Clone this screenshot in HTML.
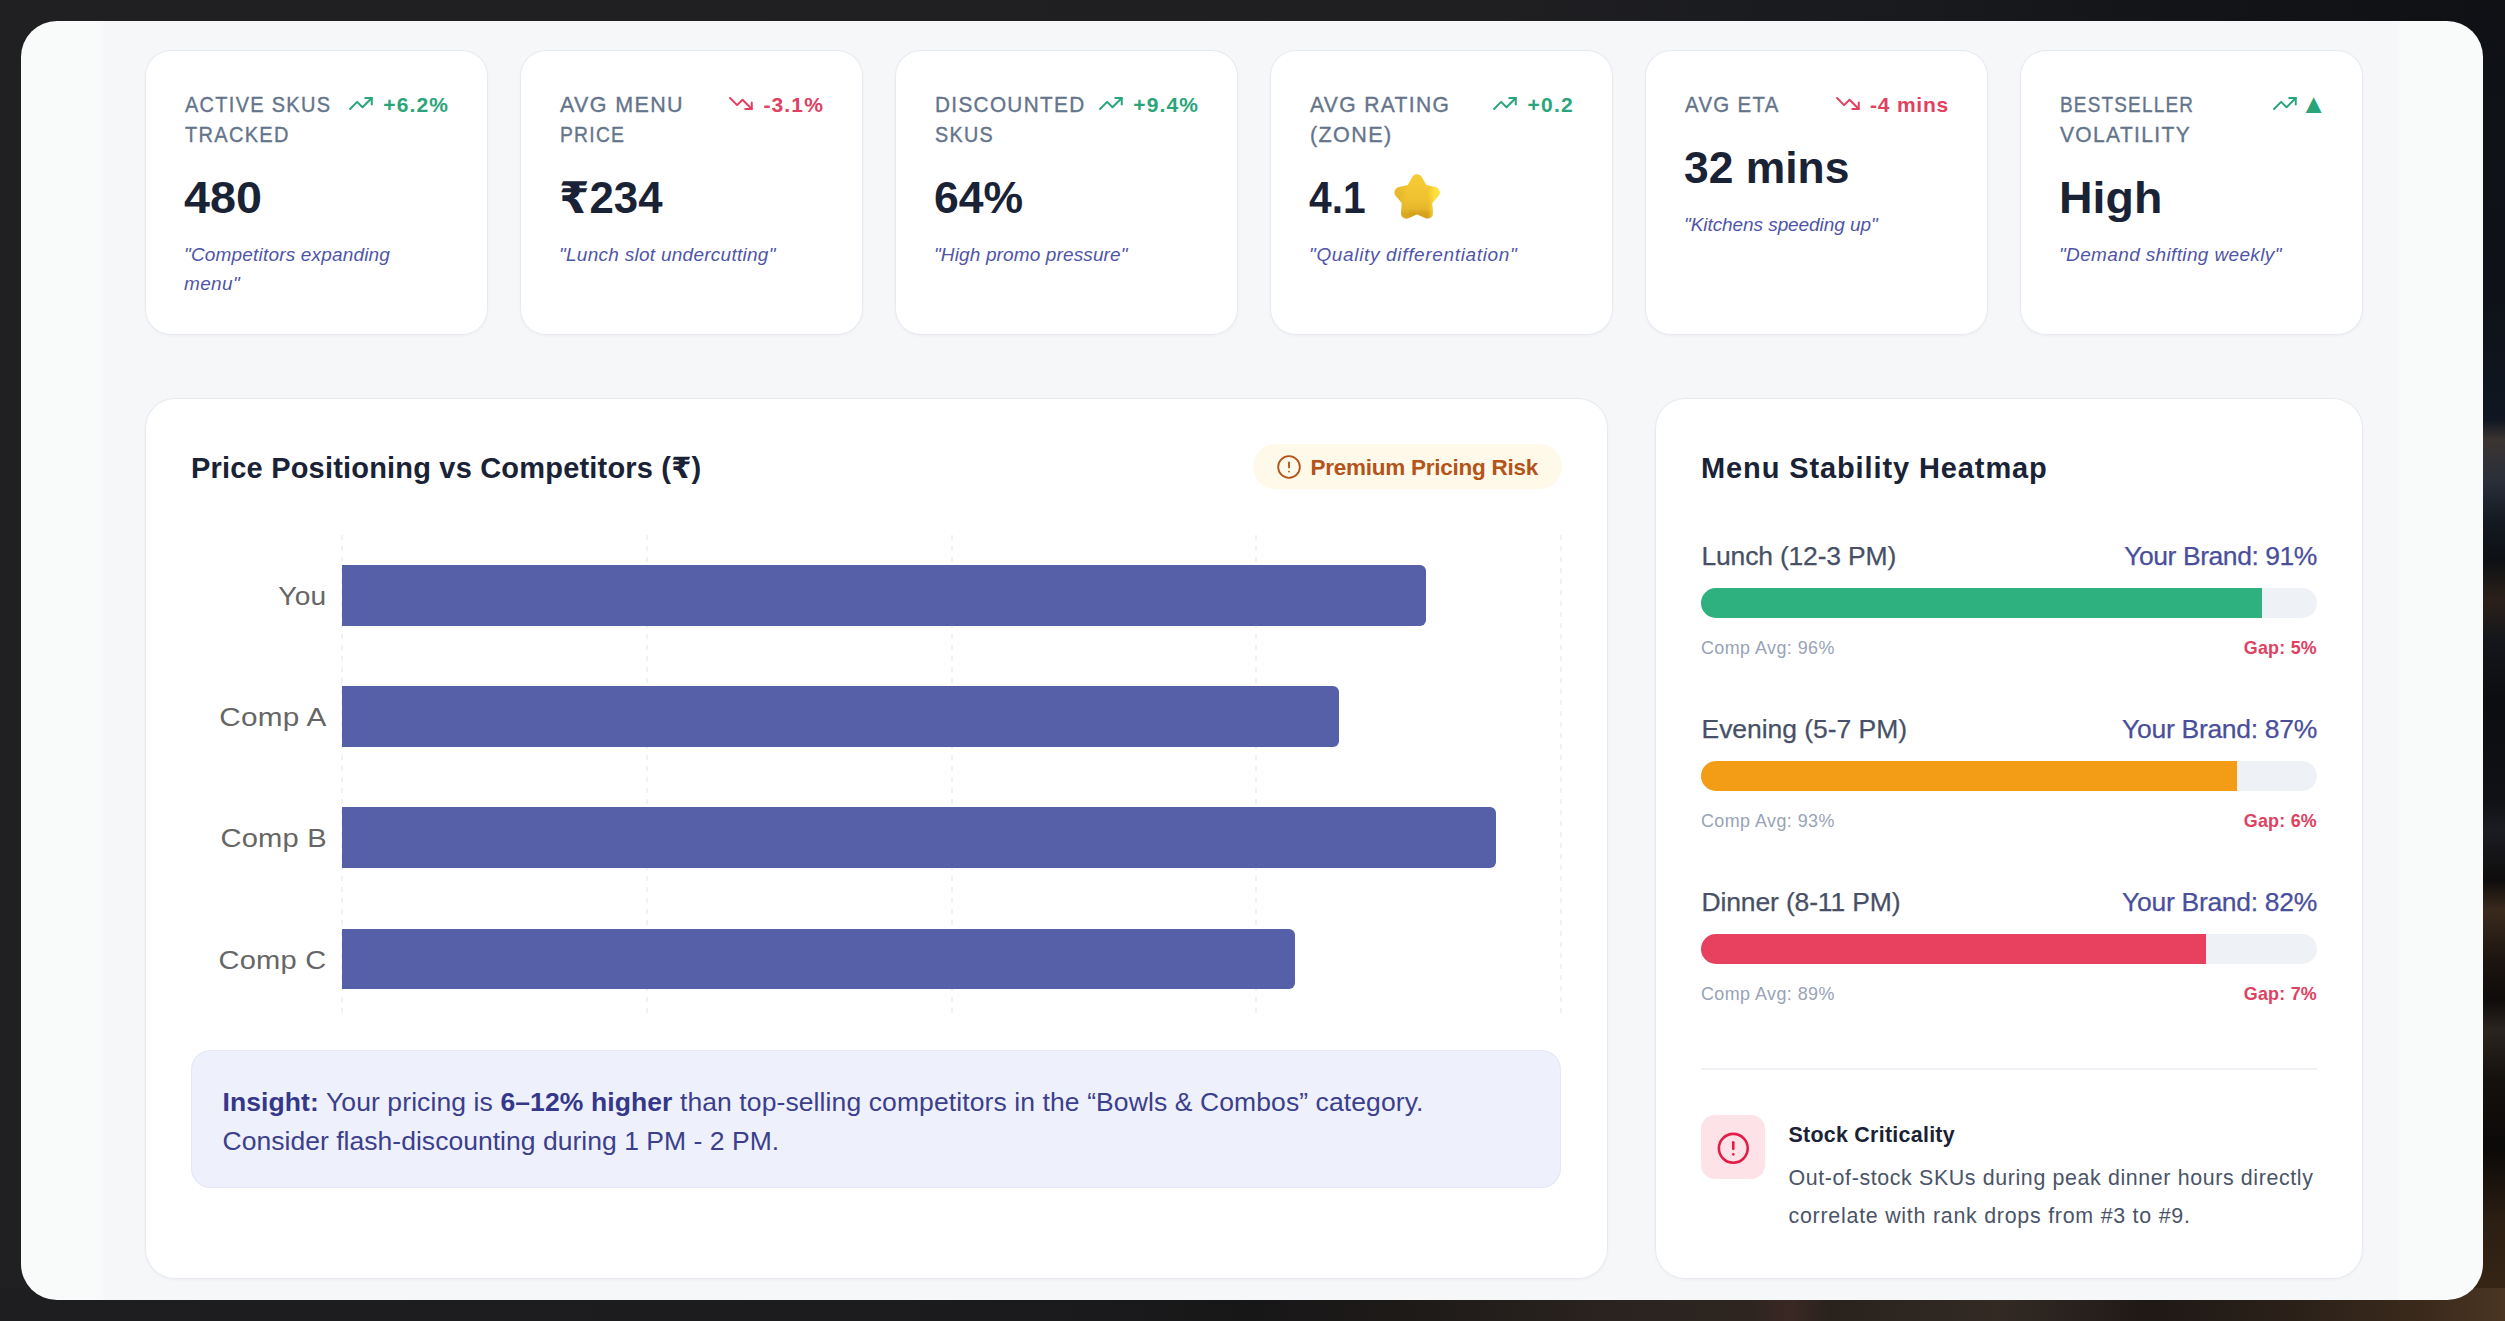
<!DOCTYPE html>
<html lang="en">
<head>
<meta charset="utf-8">
<title>Menu Intelligence Dashboard</title>
<style>
*{box-sizing:border-box;margin:0;padding:0}
html,body{width:2505px;height:1321px;overflow:hidden}
body{position:relative;font-family:"Liberation Sans","DejaVu Sans",sans-serif;color:#1a2236;background:#1b1c1f}
.bg{position:absolute;left:0;top:0;width:2505px;height:1321px;background:linear-gradient(90deg,#202023 0,#1f1f22 1500px,#191a1e 1900px,#111317 2250px,#0f1115 100%)}
.bgbot{position:absolute;left:0;top:1288px;width:2505px;height:33px;background:linear-gradient(90deg,#1e1e21 0,#1c1c1f 900px,#181718 1250px,#1d1a18 1400px,#2a231f 1600px,#2e2520 1750px,#3a2824 1790px,#2a221d 1830px,#332a24 2000px,#1f1916 2150px,#2c2119 2300px,#3a2a1c 2420px,#4a3522 2505px)}
.bgright{position:absolute;left:2470px;top:0;width:35px;height:1321px;background:linear-gradient(180deg,#0f1115 0,#0e1218 300px,#101722 420px,#3b3431 440px,#2a2f3a 480px,#141a22 520px,#0d1014 560px,#2b2019 600px,#14161b 640px,#0c0d10 700px,#101114 800px,#1b1c22 830px,#0e0c0c 880px,#3a2a1c 910px,#1c140f 960px,#0f0c0b 1000px,#2a241f 1030px,#14100d 1080px,#0b0908 1150px,#2c1e12 1220px,#3a2814 1321px)}
.panel{position:absolute;left:21px;top:21px;width:2462px;height:1279px;border-radius:36px;overflow:hidden;background:linear-gradient(90deg,#f9fbfb 0,#f9fbfb 80px,#f6f7f9 84px,#f6f7f9 2376px,#f9fbfb 2380px,#f9fbfb 100%)}
.card{position:absolute;background:#fff;box-shadow:inset 0 0 0 1px #e6e9f0,0 1px 3px rgba(15,23,42,.04)}
.kpi{top:50px;width:343px;height:285px;border-radius:26px}
.abs{position:absolute;white-space:nowrap}
.t{display:inline-block;transform-origin:0 50%;white-space:nowrap}
.lbl{font-size:21.8px;line-height:30.8px;color:#64748b;left:39.5px;top:39.5px;-webkit-text-stroke:.35px #64748b}
.lbl span{display:block}
.trend{right:39px;top:40px;height:30px;font-size:21px;line-height:30px;font-weight:700;display:flex;align-items:center}
.trend svg{margin-right:10.4px;flex:none;position:relative;top:-1.5px}
.up{color:#2aa57a}.dn{color:#e0415f}
.val{left:39.2px;font-size:43.5px;line-height:54px;font-weight:700;color:#1a2236;top:121px}
.q{left:39px;top:190px;font-size:19px;line-height:29px;font-style:italic;color:#4f55a6}
.one .val{top:91px}.one .q{top:160px}
.star{position:absolute;left:121.5px;top:121.6px}
.big{top:398px;height:881px;border-radius:30px}
.h2{font-size:29px;line-height:36px;font-weight:700;color:#1a2236;top:52.3px;left:46px}
.badge{left:1108px;top:46px;width:309px;height:44.6px;border-radius:23px;background:#fef9e8;color:#b4531a;font-weight:700;font-size:22.5px;line-height:48.6px;padding-left:57.5px;overflow:hidden}
.badge svg{position:absolute;left:22.5px;top:10.1px}
.grid{position:absolute;top:137px;height:484px;width:2px;margin-left:-.5px;background:repeating-linear-gradient(180deg,#f1f2f5 0,#f1f2f5 5.5px,transparent 5.5px,transparent 11px)}
.bar{position:absolute;left:197px;height:61px;background:#5560a8;border-radius:0 6px 6px 0}
.yl{right:1281.2px;font-size:26.5px;line-height:36px;color:#666;margin-top:1px}
.insight{position:absolute;left:46px;top:652px;width:1370px;height:138px;border-radius:20px;background:#eef0fb;box-shadow:inset 0 0 0 1px #e4e7f7;color:#3b3f8c;font-size:26.5px;line-height:38.6px;padding:33.3px 0 0 31.5px;white-space:nowrap}
.insight b{color:#34378a}
.rl{left:46.5px;font-size:26.5px;line-height:34px;color:#475066;margin-top:1.6px;-webkit-text-stroke:.25px #475066}
.rr{right:46px;font-size:26.5px;line-height:34px;color:#4a4f9c;margin-top:1.6px;-webkit-text-stroke:.25px #4a4f9c}
.track{position:absolute;left:46px;width:616px;height:30px;border-radius:15px;background:#eef1f5;overflow:hidden}
.track i{display:block;height:30px}
.sl{left:46px;font-size:17.9px;line-height:24px;color:#98a3b6;margin-top:1px}
.sr{right:46px;font-size:17.9px;line-height:24px;color:#e0415f;font-weight:700;margin-top:1px}
.hr{position:absolute;left:46px;top:670px;width:616px;height:2px;background:#f0f2f6}
.ibox{position:absolute;left:46px;top:717px;width:64px;height:64px;border-radius:14px;background:#fde3e8}
.ibox svg{position:absolute;left:15.4px;top:15.6px}
.st{left:133.5px;top:723px;font-size:21.4px;line-height:28px;font-weight:700;color:#1a2236}
.sd{left:133.5px;top:762.4px;font-size:21.4px;line-height:37.2px;color:#4a5468}
</style>
</head>
<body>
<div class="bg"></div><div class="bgright"></div><div class="bgbot"></div>
<div class="panel"></div>

<div class="card kpi" style="left:145px">
 <div class="abs lbl"><span><span class="t" id="k1l1" style="letter-spacing:1.40px;transform:scaleX(0.9171)">ACTIVE SKUS</span></span><span><span class="t" id="k1l2" style="letter-spacing:1.40px;transform:scaleX(0.9187)">TRACKED</span></span></div>
 <div class="abs trend up" id="k1tr"><svg width="24" height="13" viewBox="1 6 22.15 12" fill="none" stroke="currentColor" stroke-width="1.85" stroke-linecap="round" stroke-linejoin="round"><polyline points="22 7 13.5 15.5 8.5 10.5 2 17"/><polyline points="16 7 22 7 22 13"/><path d="M22 7 L19.2 7 L22 9.8 Z" fill="currentColor" stroke="none"/></svg><span class="t" id="k1t" style="letter-spacing:1.10px">+6.2%</span></div>
 <div class="abs val"><span class="t" id="k1v" style="transform:scaleX(1.0737)">480</span></div>
 <div class="abs q"><span class="t" id="k1q" style="letter-spacing:0.18px">"Competitors expanding</span><br><span class="t" id="k1q2" style="letter-spacing:0.35px">menu"</span></div>
</div>
<div class="card kpi" style="left:520px">
 <div class="abs lbl"><span><span class="t" id="k2l1" style="letter-spacing:1.40px;transform:scaleX(0.9853)">AVG MENU</span></span><span><span class="t" id="k2l2" style="letter-spacing:1.40px;transform:scaleX(0.8859)">PRICE</span></span></div>
 <div class="abs trend dn" id="k2tr"><svg width="24" height="13" viewBox="1 6 22.15 12" fill="none" stroke="currentColor" stroke-width="1.85" stroke-linecap="round" stroke-linejoin="round"><polyline points="22 17 13.5 8.5 8.5 13.5 2 7"/><polyline points="16 17 22 17 22 11"/><path d="M22 17 L19.2 17 L22 14.2 Z" fill="currentColor" stroke="none"/></svg><span class="t" id="k2t" style="letter-spacing:1.15px">-3.1%</span></div>
 <div class="abs val"><span class="t" id="k2v" style="transform:scaleX(1.0063)">₹234</span></div>
 <div class="abs q"><span class="t" id="k2q" style="letter-spacing:0.27px">"Lunch slot undercutting"</span></div>
</div>
<div class="card kpi" style="left:895px">
 <div class="abs lbl"><span><span class="t" id="k3l1" style="letter-spacing:1.40px;transform:scaleX(0.9519)">DISCOUNTED</span></span><span><span class="t" id="k3l2" style="letter-spacing:1.40px;transform:scaleX(0.9074)">SKUS</span></span></div>
 <div class="abs trend up" id="k3tr"><svg width="24" height="13" viewBox="1 6 22.15 12" fill="none" stroke="currentColor" stroke-width="1.85" stroke-linecap="round" stroke-linejoin="round"><polyline points="22 7 13.5 15.5 8.5 10.5 2 17"/><polyline points="16 7 22 7 22 13"/><path d="M22 7 L19.2 7 L22 9.8 Z" fill="currentColor" stroke="none"/></svg><span class="t" id="k3t" style="letter-spacing:1.10px">+9.4%</span></div>
 <div class="abs val"><span class="t" id="k3v" style="transform:scaleX(1.0237)">64%</span></div>
 <div class="abs q"><span class="t" id="k3q" style="letter-spacing:0.13px">"High promo pressure"</span></div>
</div>
<div class="card kpi" style="left:1270px">
 <div class="abs lbl"><span><span class="t" id="k4l1" style="letter-spacing:1.40px;transform:scaleX(0.9657)">AVG RATING</span></span><span><span class="t" id="k4l2" style="letter-spacing:1.40px;transform:scaleX(0.9880)">(ZONE)</span></span></div>
 <div class="abs trend up" id="k4tr"><svg width="24" height="13" viewBox="1 6 22.15 12" fill="none" stroke="currentColor" stroke-width="1.85" stroke-linecap="round" stroke-linejoin="round"><polyline points="22 7 13.5 15.5 8.5 10.5 2 17"/><polyline points="16 7 22 7 22 13"/><path d="M22 7 L19.2 7 L22 9.8 Z" fill="currentColor" stroke="none"/></svg><span class="t" id="k4t" style="letter-spacing:1.27px">+0.2</span></div>
 <div class="abs val"><span class="t" id="k4v" style="transform:scaleX(0.9366)">4.1</span></div><svg class="star" width="50" height="52" viewBox="0 0 50 52"><defs><linearGradient id="sg" x1="0" y1="0" x2="0" y2="1"><stop offset="0" stop-color="#f5cb33"/><stop offset=".6" stop-color="#eec131"/><stop offset=".86" stop-color="#e6b62b"/><stop offset="1" stop-color="#d6a21e"/></linearGradient><linearGradient id="sh" x1="0" y1="0" x2="1" y2="0"><stop offset="0" stop-color="#e0b028" stop-opacity=".55"/><stop offset=".3" stop-color="#f0c431" stop-opacity="0"/><stop offset=".8" stop-color="#f6cf34" stop-opacity="0"/><stop offset="1" stop-color="#ffe43c" stop-opacity=".9"/></linearGradient></defs><path d="M25.00 7.45 L31.00 17.70 L42.31 20.41 L34.70 29.45 L35.70 41.37 L25.00 36.71 L14.30 41.37 L15.30 29.45 L7.69 20.41 L19.00 17.70 Z" fill="url(#sg)" stroke="url(#sg)" stroke-width="10.5" stroke-linejoin="round"/><path d="M25.00 7.45 L31.00 17.70 L42.31 20.41 L34.70 29.45 L35.70 41.37 L25.00 36.71 L14.30 41.37 L15.30 29.45 L7.69 20.41 L19.00 17.70 Z" fill="url(#sh)" stroke="url(#sh)" stroke-width="10.5" stroke-linejoin="round"/></svg>
 <div class="abs q"><span class="t" id="k4q" style="letter-spacing:0.66px">"Quality differentiation"</span></div>
</div>
<div class="card kpi one" style="left:1645px">
 <div class="abs lbl"><span><span class="t" id="k5l1" style="letter-spacing:1.40px;transform:scaleX(0.9374)">AVG ETA</span></span></div>
 <div class="abs trend dn" id="k5tr"><svg width="24" height="13" viewBox="1 6 22.15 12" fill="none" stroke="currentColor" stroke-width="1.85" stroke-linecap="round" stroke-linejoin="round"><polyline points="22 17 13.5 8.5 8.5 13.5 2 7"/><polyline points="16 17 22 17 22 11"/><path d="M22 17 L19.2 17 L22 14.2 Z" fill="currentColor" stroke="none"/></svg><span class="t" id="k5t" style="letter-spacing:0.77px">-4 mins</span></div>
 <div class="abs val"><span class="t" id="k5v" style="transform:scaleX(1.0208)">32 mins</span></div>
 <div class="abs q"><span class="t" id="k5q" style="letter-spacing:-0.07px">"Kitchens speeding up"</span></div>
</div>
<div class="card kpi" style="left:2020px">
 <div class="abs lbl"><span><span class="t" id="k6l1" style="letter-spacing:1.40px;transform:scaleX(0.8677)">BESTSELLER</span></span><span><span class="t" id="k6l2" style="letter-spacing:1.40px;transform:scaleX(0.9643)">VOLATILITY</span></span></div>
 <div class="abs trend up" id="k6tr"><svg width="24" height="13" viewBox="1 6 22.15 12" fill="none" stroke="currentColor" stroke-width="1.85" stroke-linecap="round" stroke-linejoin="round"><polyline points="22 7 13.5 15.5 8.5 10.5 2 17"/><polyline points="16 7 22 7 22 13"/><path d="M22 7 L19.2 7 L22 9.8 Z" fill="currentColor" stroke="none"/></svg><span class="t" id="k6t" style="transform:scaleX(1.0000);font-size:27px;margin:0 -3px 0 -7.2px;position:relative;top:-1.5px">▲</span></div>
 <div class="abs val"><span class="t" id="k6v" style="transform:scaleX(1.0698)">High</span></div>
 <div class="abs q"><span class="t" id="k6q" style="letter-spacing:0.36px">"Demand shifting weekly"</span></div>
</div>
<div class="card big" style="left:145px;width:1463px">
 <div class="abs h2"><span class="t" id="h2a" style="letter-spacing:0.19px">Price Positioning vs Competitors (₹)</span></div>
 <div class="abs badge"><svg width="26" height="26" viewBox="0 0 24 24" fill="none" stroke="currentColor" stroke-width="1.7" stroke-linecap="round"><circle cx="12" cy="12" r="10"/><path d="M12 7.8v4.6"/><path d="M12 16.2h.01"/></svg><span class="t" id="badge" style="letter-spacing:-0.25px">Premium Pricing Risk</span></div>
 <div class="grid" style="left:196px"></div><div class="grid" style="left:501px"></div><div class="grid" style="left:806px"></div><div class="grid" style="left:1110px"></div><div class="grid" style="left:1415px"></div>
 <div class="bar" style="top:167px;width:1084px"></div>
 <div class="bar" style="top:288px;width:997px"></div>
 <div class="bar" style="top:409px;width:1154px"></div>
 <div class="bar" style="top:531px;width:953px;height:60px"></div>
 <div class="abs yl" style="top:179px"><span class="t" id="y1" style="letter-spacing:0.20px;transform:scaleX(1.0594);transform-origin:100% 50%">You</span></div>
 <div class="abs yl" style="top:300px"><span class="t" id="y2" style="letter-spacing:0.20px;transform:scaleX(1.1224);transform-origin:100% 50%">Comp A</span></div>
 <div class="abs yl" style="top:421px"><span class="t" id="y3" style="letter-spacing:0.20px;transform:scaleX(1.0990);transform-origin:100% 50%">Comp B</span></div>
 <div class="abs yl" style="top:543px"><span class="t" id="y4" style="letter-spacing:0.20px;transform:scaleX(1.0970);transform-origin:100% 50%">Comp C</span></div>
 <div class="insight"><span class="t" id="in1" style="letter-spacing:0.10px"><b>Insight:</b> Your pricing is <b>6–12% higher</b> than top-selling competitors in the “Bowls &amp; Combos” category.</span><br><span class="t" id="in2" style="letter-spacing:0.03px">Consider flash-discounting during 1 PM - 2 PM.</span></div>
</div>
<div class="card big" style="left:1655px;width:708px">
 <div class="abs h2"><span class="t" id="h2b" style="letter-spacing:0.89px">Menu Stability Heatmap</span></div>
 <div class="abs rl" style="top:139px"><span class="t" id="r0l" style="letter-spacing:-0.19px">Lunch (12-3 PM)</span></div><div class="abs rr" style="top:139px"><span class="t" id="r0r" style="letter-spacing:-0.44px">Your Brand: 91%</span></div>
 <div class="track" style="top:190px"><i style="width:91%;background:#2eb07f"></i></div>
 <div class="abs sl" style="top:237px"><span class="t" id="r0sl" style="letter-spacing:0.45px">Comp Avg: 96%</span></div><div class="abs sr" style="top:237px"><span class="t" id="r0sr" style="letter-spacing:0.23px">Gap: 5%</span></div>
 <div class="abs rl" style="top:312px"><span class="t" id="r1l" style="letter-spacing:-0.04px">Evening (5-7 PM)</span></div><div class="abs rr" style="top:312px"><span class="t" id="r1r" style="letter-spacing:-0.30px">Your Brand: 87%</span></div>
 <div class="track" style="top:363px"><i style="width:87%;background:#f39c16"></i></div>
 <div class="abs sl" style="top:410px"><span class="t" id="r1sl" style="letter-spacing:0.45px">Comp Avg: 93%</span></div><div class="abs sr" style="top:410px"><span class="t" id="r1sr" style="letter-spacing:0.23px">Gap: 6%</span></div>
 <div class="abs rl" style="top:485px"><span class="t" id="r2l" style="letter-spacing:-0.15px">Dinner (8-11 PM)</span></div><div class="abs rr" style="top:485px"><span class="t" id="r2r" style="letter-spacing:-0.30px">Your Brand: 82%</span></div>
 <div class="track" style="top:536px"><i style="width:82%;background:#e8415f"></i></div>
 <div class="abs sl" style="top:583px"><span class="t" id="r2sl" style="letter-spacing:0.45px">Comp Avg: 89%</span></div><div class="abs sr" style="top:583px"><span class="t" id="r2sr" style="letter-spacing:0.23px">Gap: 7%</span></div>
 <div class="hr"></div>
 <div class="ibox"><svg width="34.6" height="34.6" viewBox="0 0 24 24" fill="none" stroke="#e11d48" stroke-width="1.8" stroke-linecap="round"><circle cx="12" cy="12" r="10"/><path d="M12 7.8v4.6"/><path d="M12 16.2h.01"/></svg></div>
 <div class="abs st"><span class="t" id="st" style="letter-spacing:0.28px">Stock Criticality</span></div>
 <div class="abs sd"><span class="t" id="sd1" style="letter-spacing:0.62px">Out-of-stock SKUs during peak dinner hours directly</span><br><span class="t" id="sd2" style="letter-spacing:0.75px">correlate with rank drops from #3 to #9.</span></div>
</div>

</body>
</html>
